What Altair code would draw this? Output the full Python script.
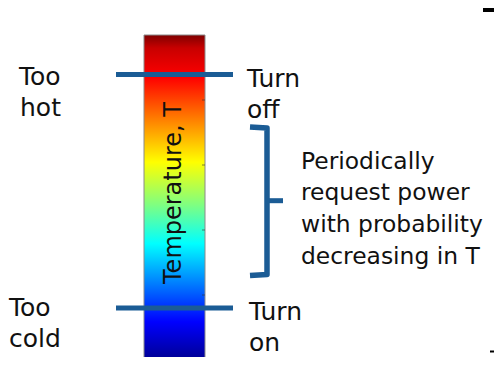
import altair as alt
import pandas as pd

# ---- content -------------------------------------------------------------
left_labels = ["Too", "hot", "Too", "cold"]
right_labels = ["Turn", "off", "Turn", "on"]
note_lines = ["Periodically", "request power", "with probability", "decreasing in T"]
axis_title = "Temperature, T"
# jet colour map, top (hot) to bottom (cold)
jet_colors = ["#7f0000", "#c80000", "#ff0000", "#ff8000", "#ffff00",
              "#80ff80", "#00ffff", "#0080ff", "#0000ff", "#00008f"]
jet_offsets = [0.0, 0.04, 0.13, 0.26, 0.39, 0.52, 0.64, 0.76, 0.88, 1.0]

# ---- layout (page pixel coordinates) --------------------------------------
W, H = 486, 349
BLUE = "#1b5c95"
FONT = "DejaVu Sans"
FS = 25

xs = alt.Scale(domain=[8, 8 + W])
ys = alt.Scale(domain=[8, 8 + H], reverse=True)
X = lambda f: alt.X(f, type="quantitative", scale=xs, axis=None)
Y = lambda f: alt.Y(f, type="quantitative", scale=ys, axis=None)

bar_df = pd.DataFrame({"x": [144], "x2": [205], "y": [35], "y2": [361]})
bar = alt.Chart(bar_df).mark_rect(
    fill=alt.Gradient(
        gradient="linear", x1=0, x2=0, y1=0, y2=1,
        stops=[alt.GradientStop(offset=o, color=c) for o, c in zip(jet_offsets, jet_colors)],
    ),
    stroke="#8a8a8a", strokeWidth=1,
).encode(x=X("x"), x2="x2", y=Y("y"), y2="y2")

ticks_df = pd.DataFrame({"x": [202] * 4, "x2": [205] * 4, "y": [100, 165, 230, 295]})
ticks = alt.Chart(ticks_df).mark_rule(color="#333333", strokeWidth=1, opacity=0.6).encode(
    x=X("x"), x2="x2", y=Y("y"))

lines_df = pd.DataFrame({"x": [116, 116], "x2": [233, 233], "y": [74.5, 308]})
lines = alt.Chart(lines_df).mark_rule(color=BLUE, strokeWidth=5).encode(
    x=X("x"), x2="x2", y=Y("y"))

br_df = pd.DataFrame({"x": [250, 267, 267, 250], "y": [127, 128, 274.5, 275.5], "o": [0, 1, 2, 3]})
bracket = alt.Chart(br_df).mark_line(color=BLUE, strokeWidth=5.5, strokeJoin="round").encode(
    x=X("x"), y=Y("y"), order="o")
prong_df = pd.DataFrame({"x": [267], "x2": [283], "y": [200.7]})
prong = alt.Chart(prong_df).mark_rule(color=BLUE, strokeWidth=5).encode(
    x=X("x"), x2="x2", y=Y("y"))

edge_df = pd.DataFrame({"x": [483, 490], "x2": [502, 502], "y": [10, 351.5], "w": [4, 2]})
edge = alt.Chart(edge_df).mark_rule(color="#000000").encode(
    x=X("x"), x2="x2", y=Y("y"), strokeWidth=alt.StrokeWidth("w:Q", scale=None, legend=None))

lbl_df = pd.DataFrame({
    "t": left_labels + right_labels,
    "x": [19, 20, 9, 9, 247, 247, 249, 249],
    "y": [84.5, 115.5, 315.5, 347, 86.5, 118, 320, 351],
})
labels = alt.Chart(lbl_df).mark_text(
    align="left", baseline="alphabetic", font=FONT, fontSize=FS, color="#111111"
).encode(x=X("x"), y=Y("y"), text="t")

note_df = pd.DataFrame({"t": note_lines, "x": [301] * 4, "y": [168.5, 200, 232, 263.5]})
notes = alt.Chart(note_df).mark_text(
    align="left", baseline="alphabetic", font=FONT, fontSize=23.4, color="#111111"
).encode(x=X("x"), y=Y("y"), text="t")

title_df = pd.DataFrame({"t": [axis_title], "x": [174], "y": [193]})
title = alt.Chart(title_df).mark_text(
    align="center", baseline="middle", angle=270, font=FONT, fontSize=24, color="#111111"
).encode(x=X("x"), y=Y("y"), text="t")

chart = alt.layer(bar, ticks, lines, bracket, prong, edge, labels, notes, title).properties(
    width=W, height=H, padding=0, autosize=alt.AutoSizeParams(type="none"),
    background="white",
).configure_view(stroke=None)

chart.save("out.html", embed_options={"renderer": "svg", "actions": False})
